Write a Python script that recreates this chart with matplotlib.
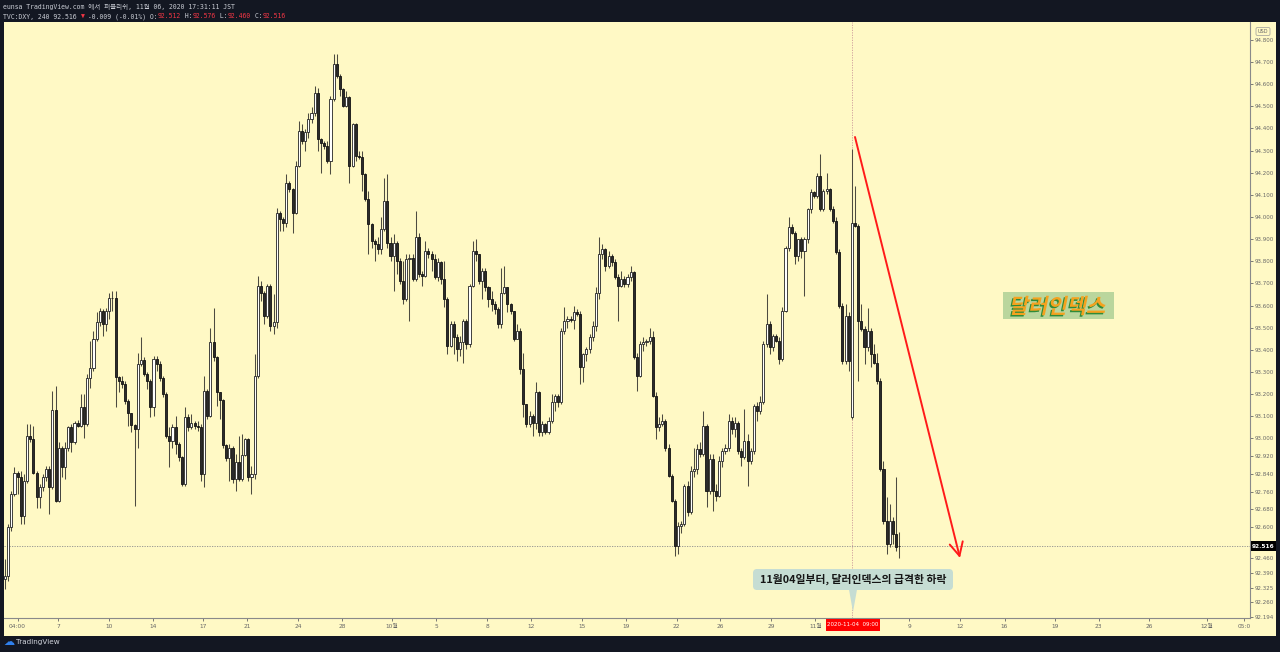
import numpy as np
import matplotlib
matplotlib.use("Agg")
from matplotlib import pyplot as plt
from matplotlib.patches import Rectangle, FancyBboxPatch, Polygon, PathPatch
from matplotlib.textpath import TextPath
from matplotlib.font_manager import FontProperties
from matplotlib.transforms import Affine2D, IdentityTransform

plt.rcParams['font.family'] = ['DejaVu Sans', 'Noto Sans CJK KR']

# --- TVC:DXY 4h candles, 2020-09-03 .. 2020-11-06 ---
opens = [
    92.365, 92.380, 92.598, 92.749, 92.846, 92.824, 92.651, 92.809, 93.012, 92.997,
    92.846, 92.734, 92.779, 92.824, 92.861, 92.779, 93.128, 92.718, 92.959, 92.869,
    92.959, 93.050, 92.982, 93.072, 93.057, 93.140, 93.065, 93.275, 93.320, 93.448,
    93.524, 93.576, 93.516, 93.576, 93.633, 93.636, 93.278, 93.260, 93.245, 93.170,
    93.113, 93.060, 93.042, 93.335, 93.354, 93.293, 93.260, 93.144, 93.361, 93.335,
    93.275, 93.200, 93.012, 92.989, 93.053, 92.974, 92.914, 92.794, 93.095, 93.050,
    93.072, 93.057, 93.050, 92.839, 93.215, 93.102, 93.436, 93.366, 93.208, 93.173,
    92.970, 92.910, 92.959, 92.816, 92.892, 92.816, 92.926, 92.999, 92.824, 92.839,
    93.283, 93.689, 93.659, 93.554,
    93.689, 93.509, 93.524, 94.020, 93.990, 93.975, 94.156, 94.126, 94.020, 94.231,
    94.389, 94.344, 94.382, 94.442, 94.472, 94.562, 94.351, 94.336, 94.321, 94.254,
    94.532, 94.690, 94.637, 94.577, 94.502, 94.540, 94.231, 94.419, 94.276, 94.269,
    94.193, 94.081, 93.968, 93.893, 93.878, 93.855, 93.945, 94.073, 93.885, 93.825,
    93.885, 93.802, 93.712, 93.629, 93.810, 93.817, 93.719, 93.908, 93.742, 93.734,
    93.847, 93.832, 93.810, 93.727, 93.795, 93.719, 93.629, 93.418, 93.516, 93.456,
    93.403, 93.434, 93.531, 93.426, 93.689, 93.847, 93.832, 93.712, 93.757, 93.682,
    93.629, 93.607, 93.584, 93.516, 93.659, 93.682, 93.607, 93.577, 93.449, 93.486,
    93.313, 93.155, 93.065, 93.102, 93.072, 93.208, 93.027, 93.065, 93.027, 93.080,
    93.163, 93.193, 93.163, 93.486, 93.531,
    93.539, 93.534, 93.569, 93.561, 93.321, 93.381, 93.403, 93.456, 93.509, 93.659,
    93.832, 93.855, 93.780, 93.825, 93.795, 93.727, 93.689, 93.719, 93.697, 93.727,
    93.750, 93.366, 93.283, 93.426, 93.434, 93.441, 93.456, 93.193, 93.050, 93.065,
    93.080, 92.959, 92.832, 92.719, 92.515, 92.606, 92.613, 92.786, 92.666, 92.854,
    92.862, 92.952, 92.929, 93.057, 92.764, 92.907, 92.764, 92.741, 92.899, 92.944,
    92.959, 93.080, 93.042, 93.072, 92.944, 92.914, 92.990, 92.899, 92.944, 93.148,
    93.125, 93.163, 93.426, 93.516, 93.411, 93.464, 93.441, 93.358, 93.577, 93.862,
    93.953, 93.930, 93.825, 93.900, 93.847,
    93.900, 94.035, 94.111, 94.096, 94.186, 94.035, 94.118, 94.126, 94.035, 93.983,
    93.840, 93.599, 93.351, 93.554, 93.095, 93.975, 93.960, 93.531, 93.494, 93.411,
    93.486, 93.381, 93.343, 93.260, 92.862, 92.628, 92.523, 92.628, 92.568, 92.512,
]
highs = [
    92.455, 92.613, 92.764, 92.869, 92.854, 92.854, 92.839, 93.065, 93.065, 93.057,
    92.854, 92.794, 92.839, 92.877, 92.877, 93.215, 93.238, 92.982, 92.967, 92.982,
    93.057, 93.065, 93.080, 93.083, 93.200, 93.200, 93.290, 93.441, 93.486, 93.569,
    93.591, 93.584, 93.591, 93.659, 93.667, 93.667, 93.283, 93.283, 93.260, 93.177,
    93.117, 93.065, 93.388, 93.456, 93.366, 93.298, 93.268, 93.373, 93.373, 93.351,
    93.283, 93.208, 93.050, 93.065, 93.102, 92.982, 92.922, 93.140, 93.110, 93.110,
    93.080, 93.080, 93.065, 93.283, 93.223, 93.501, 93.591, 93.373, 93.208, 93.177,
    92.974, 92.974, 92.967, 92.929, 93.012, 93.019, 93.004, 93.004, 92.877, 93.381,
    93.734, 93.712, 93.667, 93.697,
    93.697, 93.652, 94.043, 94.028, 93.998, 94.193, 94.163, 94.133, 94.254, 94.434,
    94.419, 94.397, 94.472, 94.495, 94.592, 94.585, 94.359, 94.344, 94.344, 94.547,
    94.735, 94.735, 94.645, 94.585, 94.570, 94.547, 94.427, 94.427, 94.299, 94.299,
    94.201, 94.118, 93.975, 93.900, 93.908, 93.998, 94.178, 94.193, 93.908, 93.923,
    93.893, 93.817, 93.802, 93.832, 93.832, 93.832, 94.028, 93.930, 93.757, 93.893,
    93.862, 93.847, 93.832, 93.817, 93.802, 93.802, 93.637, 93.531, 93.531, 93.471,
    93.464, 93.539, 93.539, 93.697, 93.893, 93.900, 93.832, 93.772, 93.772, 93.689,
    93.667, 93.622, 93.592, 93.772, 93.780, 93.682, 93.614, 93.577, 93.516, 93.501,
    93.388, 93.155, 93.125, 93.110, 93.253, 93.215, 93.080, 93.072, 93.095, 93.200,
    93.200, 93.200, 93.501, 93.592, 93.554,
    93.554, 93.599, 93.584, 93.577, 93.388, 93.411, 93.471, 93.531, 93.682, 93.908,
    93.877, 93.862, 93.847, 93.832, 93.810, 93.742, 93.757, 93.735, 93.742, 93.780,
    93.757, 93.388, 93.441, 93.456, 93.449, 93.501, 93.486, 93.208, 93.095, 93.110,
    93.087, 92.975, 92.839, 92.726, 92.621, 92.628, 92.794, 92.809, 92.877, 92.959,
    92.975, 92.982, 93.125, 93.065, 92.929, 92.929, 92.794, 92.922, 92.959, 92.975,
    93.110, 93.095, 93.095, 93.080, 92.959, 93.133, 93.020, 92.959, 93.155, 93.163,
    93.193, 93.441, 93.652, 93.531, 93.471, 93.471, 93.456, 93.592, 93.870, 93.998,
    93.968, 93.938, 93.900, 93.908, 93.908,
    94.043, 94.126, 94.118, 94.201, 94.284, 94.126, 94.201, 94.133, 94.051, 93.998,
    93.855, 93.614, 93.606, 93.569, 94.306, 94.141, 93.968, 93.606, 93.509, 93.591,
    93.501, 93.426, 93.388, 93.275, 92.899, 92.734, 92.704, 92.643, 92.824, 92.576,
]
lows = [
    92.320, 92.357, 92.583, 92.741, 92.749, 92.613, 92.613, 92.801, 92.982, 92.839,
    92.688, 92.688, 92.764, 92.809, 92.658, 92.771, 92.711, 92.711, 92.824, 92.816,
    92.944, 92.937, 92.974, 93.050, 93.050, 93.004, 93.057, 93.230, 93.305, 93.441,
    93.509, 93.463, 93.486, 93.539, 93.576, 93.140, 93.208, 93.230, 93.155, 93.057,
    93.027, 92.696, 92.959, 93.328, 93.283, 93.223, 93.095, 93.102, 93.305, 93.260,
    93.185, 93.004, 92.869, 92.959, 92.929, 92.899, 92.786, 92.786, 93.035, 93.042,
    93.042, 93.035, 92.809, 92.779, 93.087, 93.095, 93.351, 93.147, 93.087, 92.959,
    92.899, 92.809, 92.801, 92.764, 92.809, 92.809, 92.922, 92.809, 92.749, 92.816,
    93.275, 93.621, 93.516, 93.546,
    93.486, 93.471, 93.501, 93.938, 93.938, 93.953, 94.111, 93.930, 94.013, 94.224,
    94.329, 94.299, 94.359, 94.427, 94.457, 94.299, 94.201, 94.306, 94.246, 94.193,
    94.525, 94.630, 94.547, 94.495, 94.495, 94.156, 94.224, 94.254, 94.261, 94.118,
    94.073, 93.832, 93.862, 93.802, 93.832, 93.832, 93.938, 93.862, 93.802, 93.667,
    93.742, 93.697, 93.607, 93.622, 93.531, 93.712, 93.712, 93.727, 93.689, 93.727,
    93.817, 93.757, 93.719, 93.712, 93.697, 93.592, 93.381, 93.411, 93.381, 93.351,
    93.373, 93.343, 93.403, 93.411, 93.682, 93.802, 93.697, 93.629, 93.667, 93.592,
    93.577, 93.561, 93.501, 93.501, 93.652, 93.569, 93.561, 93.441, 93.449, 93.291,
    93.095, 93.050, 93.050, 93.012, 93.042, 93.012, 93.012, 93.020, 93.020, 93.072,
    93.125, 93.140, 93.155, 93.471, 93.501,
    93.524, 93.494, 93.554, 93.245, 93.253, 93.351, 93.388, 93.441, 93.486, 93.629,
    93.810, 93.757, 93.772, 93.780, 93.719, 93.531, 93.682, 93.682, 93.682, 93.712,
    93.358, 93.215, 93.276, 93.396, 93.419, 93.426, 93.185, 92.997, 93.035, 93.057,
    92.944, 92.824, 92.711, 92.470, 92.478, 92.575, 92.606, 92.651, 92.659, 92.824,
    92.839, 92.914, 92.922, 92.689, 92.749, 92.674, 92.719, 92.734, 92.869, 92.929,
    92.944, 93.020, 93.005, 92.929, 92.877, 92.907, 92.786, 92.884, 92.929, 93.080,
    93.110, 93.155, 93.411, 93.381, 93.396, 93.434, 93.336, 93.351, 93.569, 93.847,
    93.923, 93.787, 93.802, 93.817, 93.644,
    93.885, 94.020, 94.088, 94.088, 94.028, 94.028, 94.103, 94.028, 93.975, 93.832,
    93.591, 93.336, 93.336, 93.306, 93.090, 93.953, 93.260, 93.486, 93.336, 93.396,
    93.321, 93.336, 93.245, 92.854, 92.613, 92.478, 92.508, 92.523, 92.493, 92.460,
]
closes = [
    92.380, 92.598, 92.749, 92.846, 92.824, 92.651, 92.809, 93.012, 92.997, 92.846,
    92.734, 92.779, 92.824, 92.861, 92.779, 93.128, 92.718, 92.959, 92.869, 92.959,
    93.050, 92.982, 93.072, 93.057, 93.140, 93.065, 93.275, 93.320, 93.448, 93.524,
    93.576, 93.516, 93.576, 93.633, 93.636, 93.278, 93.260, 93.245, 93.170, 93.113,
    93.060, 93.042, 93.335, 93.354, 93.293, 93.260, 93.144, 93.361, 93.335, 93.275,
    93.200, 93.012, 92.989, 93.053, 92.974, 92.914, 92.794, 93.095, 93.050, 93.072,
    93.057, 93.050, 92.839, 93.215, 93.102, 93.436, 93.366, 93.208, 93.173, 92.970,
    92.910, 92.959, 92.816, 92.892, 92.816, 92.926, 92.999, 92.824, 92.839, 93.283,
    93.689, 93.659, 93.554, 93.689,
    93.509, 93.524, 94.020, 93.990, 93.975, 94.156, 94.126, 94.020, 94.231, 94.389,
    94.344, 94.382, 94.442, 94.472, 94.562, 94.351, 94.336, 94.321, 94.254, 94.532,
    94.690, 94.637, 94.577, 94.502, 94.540, 94.231, 94.419, 94.276, 94.269, 94.193,
    94.081, 93.968, 93.893, 93.878, 93.855, 93.945, 94.073, 93.885, 93.825, 93.885,
    93.802, 93.712, 93.629, 93.810, 93.817, 93.719, 93.908, 93.742, 93.734, 93.847,
    93.832, 93.810, 93.727, 93.795, 93.719, 93.629, 93.418, 93.516, 93.456, 93.403,
    93.434, 93.531, 93.426, 93.689, 93.847, 93.832, 93.712, 93.757, 93.682, 93.629,
    93.607, 93.584, 93.516, 93.659, 93.682, 93.607, 93.577, 93.449, 93.486, 93.313,
    93.155, 93.065, 93.102, 93.072, 93.208, 93.027, 93.065, 93.027, 93.080, 93.163,
    93.193, 93.163, 93.486, 93.531, 93.539,
    93.534, 93.569, 93.561, 93.321, 93.381, 93.403, 93.456, 93.509, 93.659, 93.832,
    93.855, 93.780, 93.825, 93.795, 93.727, 93.689, 93.719, 93.697, 93.727, 93.750,
    93.366, 93.283, 93.426, 93.434, 93.441, 93.456, 93.193, 93.050, 93.065, 93.080,
    92.959, 92.832, 92.719, 92.515, 92.606, 92.613, 92.786, 92.666, 92.854, 92.862,
    92.952, 92.929, 93.057, 92.764, 92.907, 92.764, 92.741, 92.899, 92.944, 92.959,
    93.080, 93.042, 93.072, 92.944, 92.914, 92.990, 92.899, 92.944, 93.148, 93.125,
    93.163, 93.426, 93.516, 93.411, 93.464, 93.441, 93.358, 93.577, 93.862, 93.953,
    93.930, 93.825, 93.900, 93.847, 93.900,
    94.035, 94.111, 94.096, 94.186, 94.035, 94.118, 94.126, 94.035, 93.983, 93.840,
    93.599, 93.351, 93.554, 93.351, 93.975, 93.960, 93.531, 93.494, 93.411, 93.486,
    93.381, 93.343, 93.260, 92.862, 92.628, 92.523, 92.628, 92.568, 92.508, 92.516,
]

price_ticks = [94.8, 94.7, 94.6, 94.5, 94.4, 94.3, 94.2, 94.1, 94.0, 93.9, 93.8,
               93.7, 93.6, 93.5, 93.4, 93.3, 93.2, 93.1, 93.0, 92.92, 92.84,
               92.76, 92.68, 92.60, 92.46, 92.39, 92.325, 92.26, 92.194]
date_labels = ["04:00", "7", "10", "14", "17", "21", "24", "28", "10월", "5",
               "8", "12", "15", "19", "22", "26", "29", "11월", "9", "12", "16",
               "19", "23", "26", "12월", "05:0"]
last_price = 92.516
event_bar = 268          # 2020-11-04 09:00 candle
event_label = "2020-11-04  09:00"
callout_text = "11월04일부터, 달러인덱스의 급격한 하락"
tag_text = "달러인덱스"
header1 = "eunsa TradingView.com 에서 퍼블리쉬, 11월 06, 2020 17:31:11 JST"

W, H = 1280, 652
DARK = '#131722'
CREAM = '#fff9c5'

def fx(x):
    return x / W

def fy(y):
    return 1 - y / H

def P(x, y):
    # image pixel (top-left origin) -> display pixel
    return (x, H - y)

fig = plt.figure(figsize=(12.8, 6.52), dpi=100, facecolor=DARK)
fig.add_artist(Rectangle(P(4, 636), 1272, 614, transform=IdentityTransform(),
                         facecolor=CREAM, edgecolor='none', zorder=-5))

ax = fig.add_axes([fx(4), fy(618), fx(1250) - fx(4), fy(22) - fy(618)])
ax.set_facecolor(CREAM)

dx = 3.16   # pixels per bar, first bar at x=5
x0 = 5
ax.set_xlim((4 - x0) / dx, (1250 - x0) / dx)
ax.set_ylim(92.189, 94.881)

o = np.array(opens)
hi = np.array(highs)
lo = np.array(lows)
c = np.array(closes)
x = np.arange(len(c))
up = c >= o

ax.vlines(x, lo, hi, color='#4d4b40', lw=0.75, zorder=2)
ax.bar(x[up], (c - o)[up], bottom=o[up], width=0.66, color='white',
       edgecolor='#222', linewidth=0.6, zorder=3)
ax.bar(x[~up], (o - c)[~up], bottom=c[~up], width=0.66, color='#2b2b2b',
       edgecolor='#111', linewidth=0.6, zorder=3)

ax.axhline(last_price, color='#8c8c8c', lw=0.6, ls=(0, (1.5, 1.5)), zorder=1)
ax.axvline(event_bar, color='#c99', lw=0.6, ls=(0, (1.5, 1.5)), zorder=1)

# price scale
ax.yaxis.tick_right()
ax.set_yticks(price_ticks)
ax.set_yticklabels(["%.3f" % v for v in price_ticks])
ax.tick_params(axis='y', labelsize=4, colors='#666', length=2, width=0.6, pad=1.5)

# time scale
tick_px = [17.5, 58.4, 108.6, 152.7, 203, 247, 298, 342, 392, 436, 487, 531,
           582, 626, 676.7, 720, 771, 815.5, 909, 960, 1004.5, 1054.7, 1098.8,
           1149, 1207, 1244]
ax.set_xticks([(p - x0) / dx for p in tick_px])
ax.set_xticklabels(date_labels)
ax.tick_params(axis='x', labelsize=4.2, colors='#666', length=2, width=0.6, pad=2.5)

for s in ['top', 'left']:
    ax.spines[s].set_visible(False)
for s in ['bottom', 'right']:
    ax.spines[s].set_color('#8a8a8a')
    ax.spines[s].set_linewidth(0.8)

# red arrow
ax.annotate('', xy=(fx(960), fy(558)), xycoords='figure fraction',
            xytext=(fx(855), fy(137)), textcoords='figure fraction',
            arrowprops=dict(arrowstyle='->,head_length=0.8,head_width=0.4',
                            color='#ff1a1a', lw=1.4, shrinkA=0, shrinkB=0,
                            mutation_scale=12),
            annotation_clip=False, zorder=6)

# callout
fig.add_artist(FancyBboxPatch(P(753, 590), 200, 21, transform=IdentityTransform(),
                              boxstyle='round,pad=0,rounding_size=4',
                              facecolor='#c6ddd3', edgecolor='none', zorder=5))
fig.add_artist(Polygon([P(849, 589.5), P(857, 589.5), P(853, 612)],
                       transform=IdentityTransform(), facecolor='#c6ddd3',
                       edgecolor='none', zorder=5))
fig.text(fx(853), fy(579.5), callout_text, ha='center', va='center',
         fontsize=7.8, fontweight='bold', color='#151515',
         family=['Noto Sans CJK KR', 'DejaVu Sans'], zorder=6)

# "달러인덱스" tag, slanted with green shadow
fig.add_artist(Rectangle(P(1003, 319), 111, 27, transform=IdentityTransform(),
                         facecolor='#bad69d', edgecolor='none', zorder=5))
tp = TextPath((0, 0), tag_text, size=21,
              prop=FontProperties(family='Noto Sans CJK KR', weight='bold'))
bb = tp.get_extents()
cx, cy = P(1059, 305.5)
for dxy, col in [((-1.5, -1.5), '#2f8b39'), ((0, 0), '#f4a21f')]:
    tr = (Affine2D().translate(-bb.x0 - bb.width / 2, -bb.y0 - bb.height / 2)
          .skew_deg(12, 0).translate(cx + dxy[0], cy + dxy[1]))
    fig.add_artist(PathPatch(tp, transform=tr, facecolor=col, edgecolor='none',
                             zorder=6))

# last price tag on the scale
fig.add_artist(Rectangle(P(1251, 551), 25, 10, transform=IdentityTransform(),
                         facecolor='black', edgecolor='none', zorder=6))
fig.text(fx(1263.5), fy(546), "%.3f" % last_price, ha='center', va='center',
         fontsize=4.2, fontweight='bold', color='white', zorder=7)

# event date tag on the time scale
fig.add_artist(Rectangle(P(826, 631), 54, 12, transform=IdentityTransform(),
                         facecolor='#ff0000', edgecolor='none', zorder=6))
fig.text(fx(853), fy(625), event_label, ha='center', va='center',
         fontsize=4.0, color='white', zorder=7)

# USD badge
fig.add_artist(FancyBboxPatch(P(1256, 35.5), 14, 8, transform=IdentityTransform(),
                              boxstyle='round,pad=0,rounding_size=1.5',
                              facecolor=CREAM, edgecolor='#9a9a9a', lw=0.5, zorder=6))
fig.text(fx(1263), fy(31.5), "USD", ha='center', va='center', fontsize=3.6,
         color='#666', zorder=7)

# header
mono = ['DejaVu Sans Mono', 'DejaVu Sans', 'Noto Sans CJK KR']
fig.text(fx(3), fy(7), header1, ha='left', va='center', fontsize=4.7,
         color='#c9ccd4', family=mono)
segs = [("TVC:DXY, 240 92.516 ", '#c9ccd4'), ("▼", '#f23645'),
        (" -0.009 (-0.01%) O:", '#c9ccd4'), ("92.512", '#f23645'),
        (" H:", '#c9ccd4'), ("92.576", '#f23645'), (" L:", '#c9ccd4'),
        ("92.460", '#f23645'), (" C:", '#c9ccd4'), ("92.516", '#f23645')]
prev = fig.text(fx(3), fy(16.5), segs[0][0], ha='left', va='center',
                fontsize=4.7, color=segs[0][1], family=mono)
for txt, col in segs[1:]:
    prev = ax.annotate(txt, xy=(1, 0.5), xycoords=prev, xytext=(0, 0),
                       textcoords='offset points', ha='left', va='center',
                       fontsize=4.7, color=col, family=mono,
                       annotation_clip=False)

# footer
fig.text(fx(3), fy(642), "☁", ha='left', va='center', fontsize=8,
         color='#2f80ed', family=['DejaVu Sans'])
fig.text(fx(16), fy(642), "TradingView", ha='left', va='center', fontsize=5.2,
         color='#d1d4dc')

fig.savefig("out.png", dpi=100, facecolor=DARK)
